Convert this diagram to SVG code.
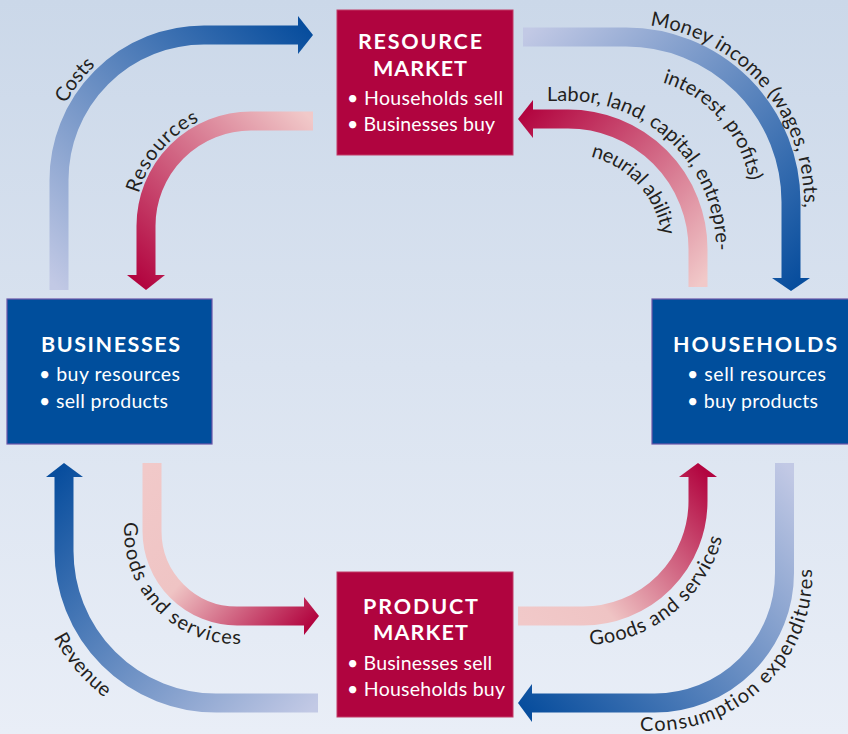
<svg xmlns="http://www.w3.org/2000/svg" width="848" height="734" viewBox="0 0 848 734">
<defs>
  <linearGradient id="bg" x1="0" y1="0" x2="0" y2="1">
    <stop offset="0" stop-color="#cbd8e9"/>
    <stop offset="1" stop-color="#e9eef7"/>
  </linearGradient>
  <linearGradient id="gCosts" gradientUnits="userSpaceOnUse" x1="59" y1="290" x2="313" y2="35">
    <stop offset="0" stop-color="#c2c9e5"/><stop offset="1" stop-color="#074d9d"/>
  </linearGradient>
  <linearGradient id="gRes" gradientUnits="userSpaceOnUse" x1="313" y1="121" x2="146" y2="290">
    <stop offset="0" stop-color="#f1c9c9"/><stop offset="1" stop-color="#b2043f"/>
  </linearGradient>
  <linearGradient id="gMoney" gradientUnits="userSpaceOnUse" x1="523" y1="37" x2="791" y2="291">
    <stop offset="0" stop-color="#c2c9e5"/><stop offset="1" stop-color="#074d9d"/>
  </linearGradient>
  <linearGradient id="gLabor" gradientUnits="userSpaceOnUse" x1="698" y1="287" x2="518" y2="119">
    <stop offset="0" stop-color="#f1c9c9"/><stop offset="1" stop-color="#b2043f"/>
  </linearGradient>
  <linearGradient id="gRev" gradientUnits="userSpaceOnUse" x1="318" y1="703" x2="64" y2="463">
    <stop offset="0" stop-color="#c2c9e5"/><stop offset="1" stop-color="#074d9d"/>
  </linearGradient>
  <linearGradient id="gGoodsL" gradientUnits="userSpaceOnUse" x1="152" y1="463" x2="319" y2="616">
    <stop offset="0" stop-color="#f1c9c9"/><stop offset="0.45" stop-color="#efc4c4"/><stop offset="1" stop-color="#b2043f"/>
  </linearGradient>
  <linearGradient id="gGoodsR" gradientUnits="userSpaceOnUse" x1="518" y1="616" x2="698" y2="463">
    <stop offset="0" stop-color="#f1c9c9"/><stop offset="0.3" stop-color="#efc4c4"/><stop offset="1" stop-color="#b2043f"/>
  </linearGradient>
  <linearGradient id="gCons" gradientUnits="userSpaceOnUse" x1="784" y1="463" x2="518" y2="703">
    <stop offset="0" stop-color="#c2c9e5"/><stop offset="1" stop-color="#074d9d"/>
  </linearGradient>

  <path id="tpCosts" d="M46,290 V180 A158,158 0 0 1 204,22 H300"/>
  <path id="tpRes" d="M134,290 V226 A117,117 0 0 1 251,109 H313"/>
  <path id="tpMoney" d="M523,24 H626 A178,178 0 0 1 804,202 V290"/>
  <path id="tpInt" d="M523,77 H626 A125,125 0 0 1 751,202 V290"/>
  <path id="tpLabor" d="M518,101 H568 A148,148 0 0 1 716,249 V300"/>
  <path id="tpNeur" d="M533,154 H568 A95,95 0 0 1 663,249 V300"/>
  <path id="tpGoodsL" d="M124,463 V531 A113,113 0 0 0 237,644 H330"/>
  <path id="tpRev" d="M32,477 V551 A184,184 0 0 0 216,735 H318"/>
  <path id="tpGoodsR" d="M518,645 H583 A144,144 0 0 0 727,501 V440"/>
  <path id="tpCons" d="M532,731 H654.5 A158,158 0 0 0 812.5,573 V440"/>
</defs>
<style>
  .band{fill:none;stroke-width:19;stroke-linecap:butt}
  .lbl{font-family:Lato,"Open Sans","Liberation Sans",sans-serif;font-size:20px;fill:#231f20}
  .title{font-family:Lato,"Open Sans","Liberation Sans",sans-serif;font-weight:bold;font-size:21.5px;fill:#ffffff;text-anchor:middle}
  .item{font-family:Lato,"Open Sans","Liberation Sans",sans-serif;font-size:19.5px;fill:#ffffff}
  .redbox{fill:#b0043f;stroke:#c23a66;stroke-width:1}
  .bluebox{fill:#004e9c;stroke:#6b56a8;stroke-width:1.2}
</style>

<rect x="0" y="0" width="848" height="734" fill="url(#bg)"/>

<g id="connectors">
  <g id="costs">
    <path class="band" stroke="url(#gCosts)" d="M59,290 V180 A145,145 0 0 1 204,35 H299"/>
    <polygon fill="url(#gCosts)" points="298,16 313,35 298,54"/>
  </g>
  <g id="resources">
    <path class="band" stroke="url(#gRes)" d="M313,121 H251 A105,105 0 0 0 146,226 V276"/>
    <polygon fill="url(#gRes)" points="127,275 165,275 146,290"/>
  </g>
  <g id="money-income">
    <path class="band" stroke="url(#gMoney)" d="M523,37 H626 A165,165 0 0 1 791,202 V279"/>
    <polygon fill="url(#gMoney)" points="772,278 810,278 791,291"/>
  </g>
  <g id="labor">
    <path class="band" stroke="url(#gLabor)" d="M698,287 V249 A130,130 0 0 0 568,119 H532"/>
    <polygon fill="url(#gLabor)" points="533,100 533,138 518,119"/>
  </g>
  <g id="revenue">
    <path class="band" stroke="url(#gRev)" d="M318,703 H216 A152,152 0 0 1 64,551 V476"/>
    <polygon fill="url(#gRev)" points="46,477 83,477 64,463"/>
  </g>
  <g id="goods-left">
    <path class="band" stroke="url(#gGoodsL)" d="M152,463 V531 A85,85 0 0 0 237,616 H305"/>
    <polygon fill="url(#gGoodsL)" points="304,597 304,635 319,616"/>
  </g>
  <g id="goods-right">
    <path class="band" stroke="url(#gGoodsR)" d="M518,616 H583 A115,115 0 0 0 698,501 V476"/>
    <polygon fill="url(#gGoodsR)" points="679,477 717,477 698,463"/>
  </g>
  <g id="consumption">
    <path class="band" stroke="url(#gCons)" d="M784.5,463 V573 A130,130 0 0 1 654.5,703 H531"/>
    <polygon fill="url(#gCons)" points="532,684 532,722 518,703"/>
  </g>

  <text class="lbl"><textPath href="#tpCosts" startOffset="214" text-anchor="middle">Costs</textPath></text>
  <text class="lbl" letter-spacing="1"><textPath href="#tpRes" startOffset="146" text-anchor="middle">Resources</textPath></text>
  <text class="lbl" letter-spacing="0.3"><textPath href="#tpMoney" startOffset="127">Money income (wages, rents,</textPath></text>
  <text class="lbl"><textPath href="#tpInt" startOffset="140">interest, profits)</textPath></text>
  <text class="lbl"><textPath href="#tpLabor" startOffset="29">Labor, land, capital, entrepre-</textPath></text>
  <text class="lbl" letter-spacing="-0.4"><textPath href="#tpNeur" startOffset="58">neurial ability</textPath></text>
  <text class="lbl" letter-spacing="1.2"><textPath href="#tpGoodsL" startOffset="59">Goods and services</textPath></text>
  <text class="lbl" letter-spacing="0.6"><textPath href="#tpRev" startOffset="164">Revenue</textPath></text>
  <text class="lbl" letter-spacing="0.7"><textPath href="#tpGoodsR" startOffset="72">Goods and services</textPath></text>
  <text class="lbl" letter-spacing="1.3"><textPath href="#tpCons" startOffset="108">Consumption expenditures</textPath></text>
</g>

<g id="resource-market">
  <rect class="redbox" x="337" y="10" width="176" height="145"/>
  <text class="title" x="420" y="49" textLength="124" lengthAdjust="spacing">RESOURCE</text>
  <text class="title" x="420" y="76" textLength="94" lengthAdjust="spacing">MARKET</text>
  <text class="item" x="347" y="105" textLength="156" lengthAdjust="spacing">• Households sell</text>
  <text class="item" x="347" y="131" textLength="148" lengthAdjust="spacing">• Businesses buy</text>
</g>

<g id="product-market">
  <rect class="redbox" x="337" y="572" width="176" height="145"/>
  <text class="title" x="420.5" y="614" textLength="115" lengthAdjust="spacing">PRODUCT</text>
  <text class="title" x="420.5" y="640" textLength="95" lengthAdjust="spacing">MARKET</text>
  <text class="item" x="347" y="670" textLength="145" lengthAdjust="spacing">• Businesses sell</text>
  <text class="item" x="347" y="696" textLength="158" lengthAdjust="spacing">• Households buy</text>
</g>

<g id="businesses">
  <rect class="bluebox" x="7" y="299" width="205" height="145"/>
  <text class="title" x="110.5" y="352" textLength="139" lengthAdjust="spacing">BUSINESSES</text>
  <text class="item" x="39" y="381" textLength="141" lengthAdjust="spacing">• buy resources</text>
  <text class="item" x="39" y="408" textLength="129" lengthAdjust="spacing">• sell products</text>
</g>

<g id="households">
  <rect class="bluebox" x="652" y="299" width="200" height="145"/>
  <text class="title" x="755" y="352" textLength="164" lengthAdjust="spacing">HOUSEHOLDS</text>
  <text class="item" x="687" y="381" textLength="139" lengthAdjust="spacing">• sell resources</text>
  <text class="item" x="687" y="408" textLength="131" lengthAdjust="spacing">• buy products</text>
</g>
</svg>
